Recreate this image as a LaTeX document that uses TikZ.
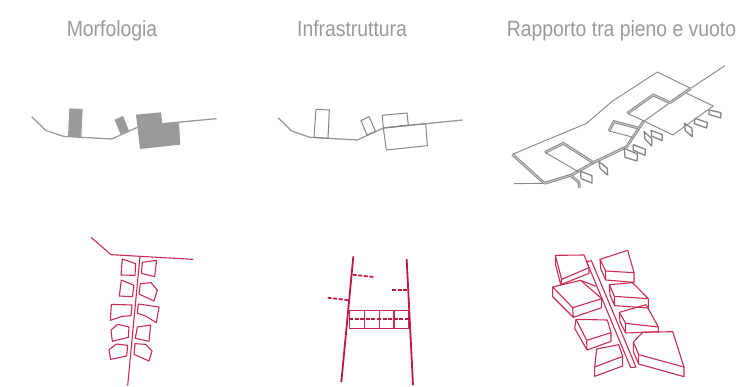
\documentclass[tikz,border=0pt]{standalone}
\usepackage{fontspec}
\setmainfont[FakeStretch=0.88]{Liberation Sans}
\usepackage{xcolor}
\definecolor{wallgray}{HTML}{9A9A9A}
\definecolor{linegray}{HTML}{858585}
\definecolor{wine}{HTML}{C2153F}
\begin{document}
\begin{tikzpicture}[x=1pt,y=-1pt,
    heading/.style={font=\fontsize{22}{24}\selectfont, text=wallgray, inner sep=0pt, anchor=base},
    road/.style={draw=wallgray, line width=1.3pt},
    solid block/.style={fill=wallgray, draw=none},
    empty block/.style={draw=linegray, line width=1pt},
    plan/.style={draw=linegray, line width=.9pt, line join=round},
    ramp/.style={draw=linegray, line width=.9pt, double=white!55!linegray, double distance=1pt},
    shed/.style={draw=linegray, line width=1.3pt, line join=round},
    red thin/.style={draw=wine!90, line width=1.1pt, line join=round},
    red thick/.style={draw=wine, line width=1.8pt},
    red dash/.style={draw=wine, line width=1.7pt, dash pattern=on 4pt off 1.6pt},
]
\useasboundingbox (0,0) rectangle (738,386);
\node[heading] (morf) at (112,36) {Morfologia};
\node[heading] (infra) at (352,36) {Infrastruttura};
\node[heading] (rapp) at (621.5,36) {Rapporto tra pieno e vuoto};

% morfologia
\begin{scope}[shift={(0,80)},scale=1/3]
\draw[road] (95,110)--(137,151)--(190,169)--(335,177)--(412,142);
\draw[road] (487,131)--(650,116);
\fill[solid block] (208,85)--(248,87)--(244,172)--(204,170)--cycle;
\fill[solid block] (344,119)--(369,108)--(387,152)--(361,162)--cycle;
\fill[solid block] (408,104)--(483,97)--(487,131)--(537,128)--(541,194)--(420,207)--cycle;
\end{scope}

% infrastruttura
\begin{scope}[shift={(250,80)},scale=1/3]
\draw[road] (85,114)--(125,153)--(180,172)--(322,180)--(400,144)--(527,131)--(638,120);
\draw[empty block] (198,88)--(238,90)--(234,175)--(192,172)--cycle;
\draw[empty block] (333,122)--(357,110)--(377,154)--(351,165)--cycle;
\draw[empty block] (397,106)--(471,99)--(475,135)--(400,144)--cycle;
\draw[empty block] (400,144)--(527,131)--(532,197)--(409,210)--cycle;
\end{scope}

% rapporto, prospettiva
\begin{scope}[shift={(500,60)},scale=1/3]
\draw[plan] (42,371)--(133,370);
\draw[plan] (37,283)--(260,190)--(335,125)--(472,36)--(572,85)--(675,17);
\draw[ramp] (37,283)--(133,370);
\draw[ramp] (133,370)--(215,345)--(280,308)--(380,260)--(430,185);
\draw[plan] (430,185)--(510,128);
\draw[ramp] (510,128)--(572,85);
\draw[plan] (560,100)--(640,138)--(518,225)--(430,182)--(382,160);
\draw[ramp] (382,160)--(460,105)--(510,128);
\draw[ramp] (418,205)--(342,185)--(327,213);
\draw[plan] (327,213)--(400,232);
\draw[ramp] (135,277)--(190,250)--(280,308);
\draw[plan] (135,277)--(235,335);
\draw[shed] (627,150)--(663,158)--(662,174)--(627,163)--cycle;
\draw[shed] (585,175)--(622,188)--(620,204)--(583,191)--cycle;
\draw[shed] (553,190)--(576,205)--(577,230)--(556,212)--cycle;
\draw[shed] (432,215)--(455,235)--(455,258)--(435,237)--cycle;
\draw[shed] (453,211)--(487,224)--(486,242)--(455,228)--cycle;
\draw[shed] (400,254)--(436,268)--(435,286)--(400,271)--cycle;
\draw[shed] (373,265)--(412,282)--(411,303)--(375,292)--cycle;
\draw[shed] (297,305)--(322,325)--(323,345)--(300,325)--cycle;
\draw[shed] (242,334)--(276,347)--(276,369)--(243,356)--cycle;
\draw[ramp] (210,345)--(237,367)--(238,384);
\end{scope}

% morfologia, pianta
\begin{scope}[shift={(80,230)},scale=1/3]
\draw[red thin] (33,22)--(93,74)--(340,88);
\draw[red thin] (180,78)--(143,467);
\draw[red thin] (127,87)--(167,101)--(165,136)--(123,135)--cycle;
\draw[red thin] (124,150)--(162,166)--(157,200)--(118,198)--cycle;
\draw[red thin] (94,223)--(156,225)--(153,257)--(127,259)--(91,271)--cycle;
\draw[red thin] (93,300)--(113,283)--(147,291)--(145,322)--(97,334)--cycle;
\draw[red thin] (87,359)--(109,342)--(143,346)--(140,378)--(92,388)--cycle;
\draw[red thin] (187,97)--(230,91)--(224,140)--(184,130)--cycle;
\draw[red thin] (181,161)--(213,158)--(232,180)--(222,213)--(177,192)--cycle;
\draw[red thin] (175,222)--(237,231)--(229,278)--(197,258)--(172,250)--cycle;
\draw[red thin] (172,291)--(212,285)--(207,334)--(166,325)--cycle;
\draw[red thin] (165,341)--(197,343)--(216,363)--(207,393)--(162,373)--cycle;
\end{scope}

% infrastruttura, pianta
\begin{scope}[shift={(310,245)},scale=1/3]
\draw[red thin] (118,197) rectangle (297,250);
\foreach \xv in {163,208,252} \draw[red thin] (\xv,197)--(\xv,250);
\draw[red thick] (130,34)--(94,411);
\draw[red thick] (290,42)--(309,420);
\draw[red dash] (128,89)--(190,96);
\draw[red dash] (53,158)--(118,166);
\draw[red dash] (246,134)--(294,134);
\draw[red dash] (117,223)--(298,223);
\end{scope}

% pieno e vuoto, pianta
\begin{scope}[shift={(540,240)},scale=1/3]
\draw[red thin] (140,65)--(154,62)--(288,381)--(272,383)--cycle;
\draw[red thin] (46,46)--(132,45)--(147,83)--(65,118)--cycle;
\draw[red thin] (46,46)--(47,75)--(62,134)--(147,100)--(147,83) (65,118)--(62,134);
\draw[red thin] (38,141)--(122,121)--(185,176)--(98,203)--cycle;
\draw[red thin] (38,141)--(38,170)--(100,232)--(185,203)--(185,176) (98,203)--(100,232) (122,121)--(168,139);
\draw[red thin] (108,238)--(202,240)--(213,278)--(140,301)--cycle;
\draw[red thin] (108,238)--(104,265)--(141,330)--(213,304)--(213,278) (140,301)--(141,330);
\draw[red thin] (170,327)--(236,314)--(248,349)--(164,381)--cycle;
\draw[red thin] (164,381)--(164,409)--(248,378)--(248,349);
\draw[red thin] (180,58)--(263,31)--(282,98)--(197,93)--cycle;
\draw[red thin] (180,58)--(182,86)--(197,120)--(282,127)--(282,98) (197,93)--(197,120);
\draw[red thin] (208,134)--(278,128)--(325,176)--(223,169)--cycle;
\draw[red thin] (208,134)--(210,165)--(224,197)--(325,204)--(325,176) (223,169)--(224,197);
\draw[red thin] (238,217)--(318,194)--(355,261)--(257,250)--cycle;
\draw[red thin] (238,217)--(240,245)--(257,279)--(355,275)--(355,261) (257,250)--(257,279);
\draw[red thin] (280,306)--(308,277)--(398,275)--(432,381)--(296,344)--cycle;
\draw[red thin] (280,306)--(280,335)--(296,372)--(432,410)--(432,381) (296,344)--(296,372);
\end{scope}
\end{tikzpicture}
\end{document}
